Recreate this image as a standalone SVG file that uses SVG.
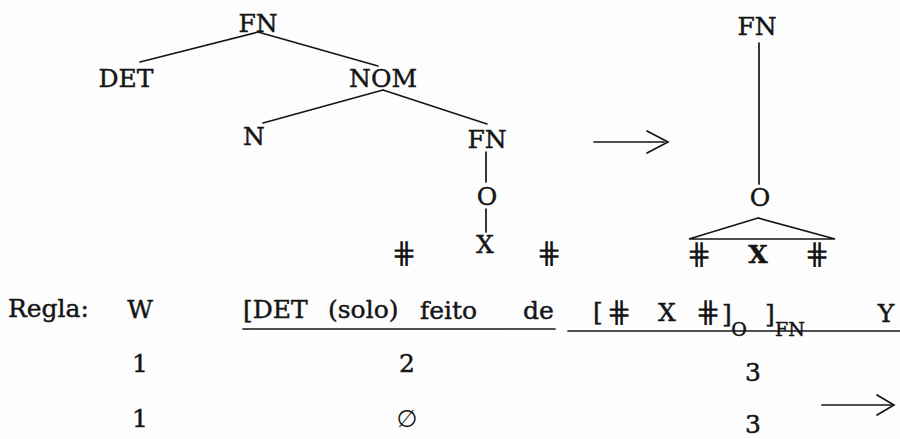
<svg xmlns="http://www.w3.org/2000/svg" width="900" height="439" viewBox="0 0 900 439">
<style>
  text { font-family: "DejaVu Serif", "Liberation Serif", serif; font-size: 25px; fill: #151515; stroke: #151515; stroke-width: 0.45; }
  .c { text-anchor: middle; }
  .b { font-weight: bold; }
  .sub { font-size: 19px; }
  .sym { font-family: "DejaVu Sans", sans-serif; font-size: 30px; stroke-width: 0; }
  .ln { stroke: #151515; stroke-width: 1.7; fill: none; stroke-linecap: round; }
</style>
<rect width="900" height="439" fill="#fdfdfd"/>
<g id="connectors">
  <line class="ln" x1="258" y1="32" x2="140" y2="62"/>
  <line class="ln" x1="258" y1="32" x2="378" y2="66"/>
  <line class="ln" x1="383" y1="90" x2="263" y2="123"/>
  <line class="ln" x1="383" y1="90" x2="487" y2="124"/>
  <line class="ln" x1="486" y1="152" x2="486" y2="182"/>
  <line class="ln" x1="486" y1="209" x2="486" y2="232"/>
  <line class="ln" x1="759" y1="43" x2="759" y2="184"/>
  <polygon class="ln" points="758,218 689,239 835,239" stroke-width="2"/>
  <line class="ln" x1="594" y1="142" x2="664" y2="142" stroke-width="2.4"/>
  <polyline class="ln" points="647,131 668,142 647,153" stroke-width="2.4"/>
  <line class="ln" x1="243" y1="329" x2="555" y2="329" stroke-width="2.2"/>
  <line class="ln" x1="568" y1="331" x2="900" y2="331" stroke-width="2.2"/>
  <line class="ln" x1="822" y1="405" x2="892" y2="405" stroke-width="2.2"/>
  <polyline class="ln" points="877,395 894,405 877,415" stroke-width="2.2"/>
</g>
<g id="n-fn-top"><text class="c" x="258" y="32">FN</text></g>
<g id="n-det"><text class="c" x="126" y="87">DET</text></g>
<g id="n-nom"><text class="c" x="383" y="87">NOM</text></g>
<g id="n-n"><text class="c" x="254" y="145">N</text></g>
<g id="n-fn-sub"><text class="c" x="487" y="148">FN</text></g>
<g id="n-o-left"><text class="c" x="487" y="205">O</text></g>
<g id="n-x-left"><text class="c" x="485" y="253">X</text></g>
<g id="n-hash-left"><text class="c sym" x="404" y="263">⋕</text><text class="c sym" x="549" y="263">⋕</text></g>
<g id="n-fn-right"><text class="c" x="757" y="35">FN</text></g>
<g id="n-o-right"><text class="c" x="760" y="206">O</text></g>
<g id="n-x-right"><text class="c sym" x="699" y="264">⋕</text><text class="c b" x="758" y="263">X</text><text class="c sym" x="817" y="264">⋕</text></g>
<g id="rule">
  <text x="8" y="317">Regla:</text>
  <text class="c" x="140" y="318">W</text>
  <text x="243" y="318">[DET</text>
  <text x="328" y="318">(solo)</text>
  <text x="420" y="319">feito</text>
  <text x="523" y="319">de</text>
  <text x="593" y="320">[</text>
  <text class="c sym" x="619" y="322">⋕</text>
  <text class="c" x="667" y="321">X</text>
  <text class="c sym" x="708" y="322">⋕</text>
  <text x="722" y="322">]</text>
  <text class="c sub" x="739" y="336">O</text>
  <text x="765" y="322">]</text>
  <text class="sub" x="775" y="336">FN</text>
  <text class="c" x="886" y="322">Y</text>
</g>
<g id="row1">
  <text class="c" x="140" y="372">1</text>
  <text class="c" x="407" y="372">2</text>
  <text class="c" x="753" y="381">3</text>
</g>
<g id="row2">
  <text class="c" x="140" y="427">1</text>
  <text class="c sym" x="407" y="427" style="font-size:24px">∅</text>
  <text class="c" x="753" y="433">3</text>
</g>
</svg>
